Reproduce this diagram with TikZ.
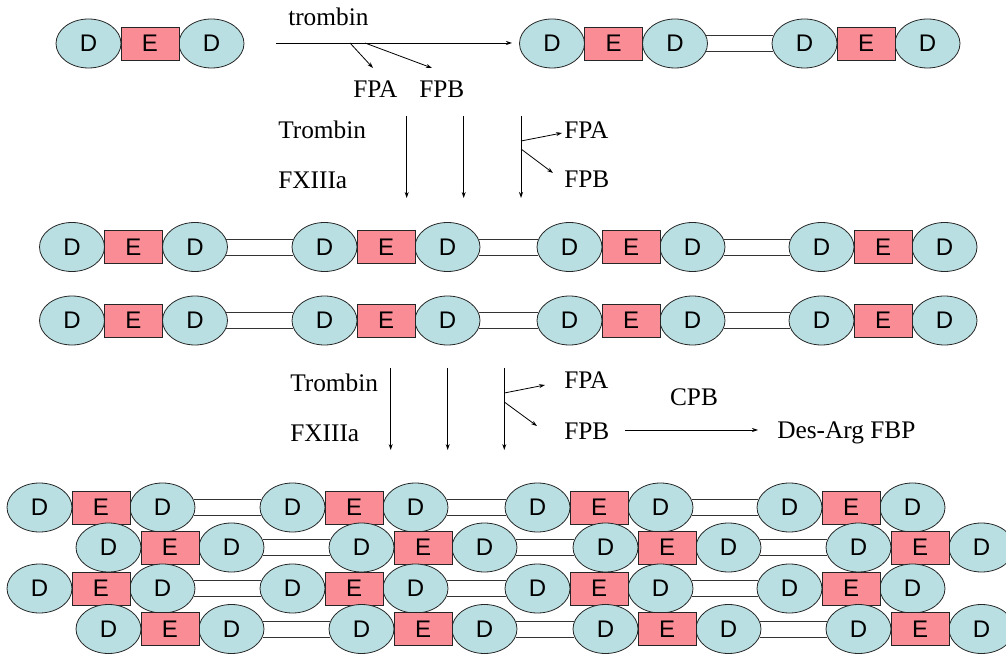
\documentclass[tikz,border=0pt]{standalone}
\usepackage{fontspec}
\setmainfont{Liberation Serif}
\newfontfamily\unitfont{Liberation Sans}
\usetikzlibrary{arrows.meta,shapes.geometric}

\definecolor{dfill}{RGB}{185,223,226}
\definecolor{efill}{RGB}{250,140,150}

\tikzset{
  dnode/.style={ellipse, draw=black!85, line width=0.6pt, fill=dfill,
    minimum width=48.75pt, minimum height=36.75pt, inner sep=0pt,
    font=\unitfont\fontsize{18}{18}\selectfont},
  enode/.style={rectangle, draw=black!85, line width=0.6pt, fill=efill,
    minimum width=43.5pt, minimum height=24.75pt, inner sep=0pt,
    font=\unitfont\fontsize{18}{18}\selectfont},
  link/.style={draw=black!80, line width=0.7pt, shorten <=-1.4pt, shorten >=-1.4pt},
  arr/.style={line width=0.6pt, -{Stealth[length=4.5pt,width=3pt]}},
  lbl/.style={anchor=base west, inner sep=0pt, font=\fontsize{19}{20}\selectfont},
}

% one D-E-D unit: name, x of the E centre, y
\newcommand\fibunit[3]{%
  \node[dnode] (#1l) at ({#2-61.5},#3) {D};
  \node[dnode] (#1r) at ({#2+61.5},#3) {D};
  \node[enode] (#1e) at (#2,#3) {E};
}
% double link between the right D of one unit and the left D of the next
\newcommand\fiblink[2]{%
  \draw[link] ([yshift=6pt]#1r.east) -- ([yshift=6pt]#2l.west);
  \draw[link] ([yshift=-6pt]#1r.east) -- ([yshift=-6pt]#2l.west);
}
% a row of four linked units: name, y, x of the E centres
\newcommand\fibrow[3]{%
  \foreach [count=\k] \x in {#3} {\fibunit{#1\k}{\x}{#2}}
  \fiblink{#11}{#12}
  \fiblink{#12}{#13}
  \fiblink{#13}{#14}
}

\begin{document}
\begin{tikzpicture}[x=0.75pt, y=-0.75pt]
\useasboundingbox (0,0) rectangle (1006,655);
\clip (0,0) rectangle (1006,655);

% ---- first step: monomer -> dimer
\fibunit{tA}{150}{43.5}
\fibunit{tB}{613.5}{43.5}
\fibunit{tC}{866}{43.5}
\fiblink{tB}{tC}

\coordinate (s0) at (276,43);
\coordinate (s1) at (512,43);
\coordinate (b1) at (350,43);
\coordinate (b2) at (365,43);
\coordinate (b1e) at (373,68);
\coordinate (b2e) at (432,68);
\draw[arr] (s0) -- (s1);
\draw[arr] (b1) -- (b1e);
\draw[arr] (b2) -- (b2e);
\node[lbl] (trA) at (288,26) {trombin};
\node[lbl] (fpaA) at (353,98) {FPA};
\node[lbl] (fpbA) at (419,98) {FPB};

% ---- second step
\foreach \x/\n in {406.7/1,463.7/2,521/3}{
  \coordinate (u\n) at (\x,116);
  \coordinate (v\n) at (\x,198);
  \draw[arr] (u\n) -- (v\n);
}
\coordinate (c1) at (521,141);
\coordinate (c2) at (521,149);
\coordinate (c1e) at (562,133);
\coordinate (c2e) at (553,173);
\draw[arr] (c1) -- (c1e);
\draw[arr] (c2) -- (c2e);
\node[lbl] (trB) at (278,139) {Trombin};
\node[lbl] (fxB) at (278,188.5) {FXIIIa};
\node[lbl] (fpaB) at (564,139) {FPA};
\node[lbl] (fpbB) at (564,188) {FPB};

% ---- protofibrils
\fibrow{pa}{247}{133.5,386,631,883}
\fibrow{pb}{320.5}{133.5,386,631,883}

% ---- third step
\foreach \x/\n in {390.7/1,447.7/2,504.3/3}{
  \coordinate (p\n) at (\x,368);
  \coordinate (q\n) at (\x,450);
  \draw[arr] (p\n) -- (q\n);
}
\coordinate (d1) at (504.3,393);
\coordinate (d2) at (504.3,402);
\coordinate (d1e) at (545,385);
\coordinate (d2e) at (537,426);
\draw[arr] (d1) -- (d1e);
\draw[arr] (d2) -- (d2e);
\node[lbl] (trC) at (290,392) {Trombin};
\node[lbl] (fxC) at (290,441.5) {FXIIIa};
\node[lbl] (fpaC) at (564,389) {FPA};
\node[lbl] (fpbC) at (564,440) {FPB};
\node[lbl, anchor=base] (cpb) at (694,406) {CPB};
\coordinate (k0) at (625,430);
\coordinate (k1) at (758,430);
\draw[arr] (k0) -- (k1);
\node[lbl] (desarg) at (777,439) {Des-Arg FBP};

% ---- fibre: four staggered rows
\fibrow{fa}{507.5}{101,354,599,851}
\fibrow{fb}{547.5}{170,423,667,920}
\fibrow{fc}{588.5}{101,354,599,851}
\fibrow{fd}{629}{170,423,667,920}
\end{tikzpicture}
\end{document}
